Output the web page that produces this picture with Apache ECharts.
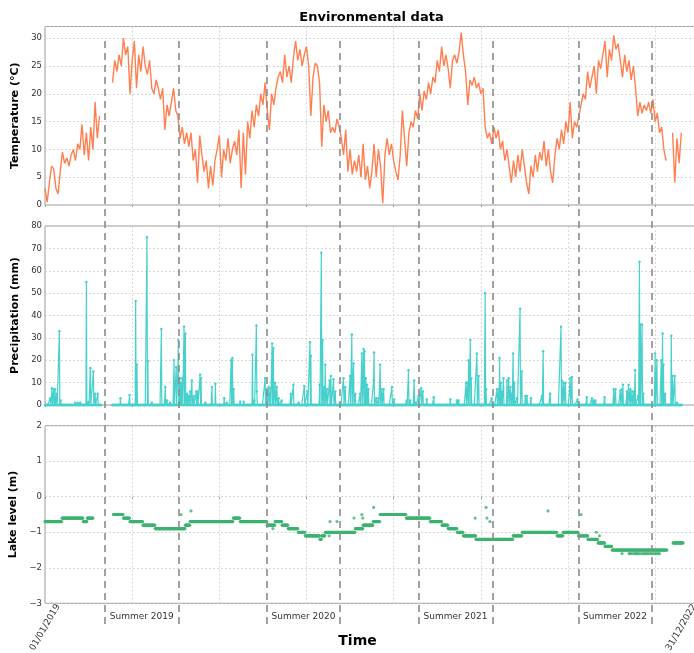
<!DOCTYPE html>
<html><head><meta charset="utf-8">
<script src="https://cdn.jsdelivr.net/npm/echarts@6/dist/echarts.min.js"></script>
<style>html,body{margin:0;padding:0;background:#fff}#c{width:694px;height:653px}</style>
</head><body><div id="c"></div>
<script>
// ---------- DATA (day index from 01/01/2019) ----------
const xMaxDay = 1496;
const tempStepDays = 5;
const temperature = [
 3, 0.5, 4, 7, 6.5, 3, 2, 6, 9.5, 7.5,
 8.5, 7, 9, 10, 8, 11, 10, 14.5, 9, 13,
 8, 14, 10, 18.5, 12, 16, null, null, null, null,
 null, 22, 26, 24, 27, 25, 30, 27, 28.5, 20,
 26, 29.5, 21, 27, 24, 28.5, 25, 23.5, 26, 21,
 20, 22.5, 21, 19, 21, 13.5, 18, 16, 18.5, 21,
 17, 16, 12, 14, 11, 13, 10.5, 13, 8, 10,
 4, 12.5, 9, 6, 8, 3, 7, 3.5, 8, 10,
 12.5, 5, 10, 8, 12, 7.5, 10, 11.5, 9, 13.5,
 3, 13, 5.5, 15, 12, 17, 14, 18, 16, 20,
 18, 22, 17, 13.5, 20, 18, 21, 23, 24, 22,
 27, 23, 25, 22, 26.5, 29.5, 26, 28, 25, 27,
 28.5, 25, 16, 23, 25.5, 25, 22, 10.5, 18, 15,
 17, 13, 14, 13, 15.5, 14, 12, 9, 13.5, 6,
 10, 5.5, 8, 6, 9, 5, 11, 4.5, 7, 3,
 6, 11, 5, 10, 7, 0.3, 9, 12, 9, 11,
 8, 6, 4.5, 9, 17, 12, 7, 13, 15, 14,
 17, 15.5, 20, 17, 20.5, 19, 22, 20, 23, 22,
 26, 24, 28.5, 25, 27, 24.5, 21, 26, 27, 25.5,
 27.5, 31, 27, 24, 18, 22.5, 21.5, 23, 21, 22,
 20, 21, 14, 12, 13, 11, 14, 12, 13.5, 10,
 11.5, 8, 10, 7, 4, 8, 5, 9, 6, 10,
 7, 4, 2, 7, 5, 9, 6, 9.5, 8, 11.5,
 7, 10, 6, 4, 9, 12, 10, 13.5, 11, 15,
 13, 18.5, 12, 15, 14, 16, 18, 20, 19, 24,
 21, 23, 25, 20, 26, 24.5, 27, 29.5, 23, 28,
 26, 30.5, 28, 29, 26, 23, 27, 24, 26, 22.5,
 25, 21, 16, 18.5, 16.5, 18, 17, 18.5, 16.5, 19,
 15, 16.5, 13, 14, 10, 8, null, null, 13, 4,
 12, 7.5, 13
];

// precipitation: [day, mm] for rainy days; all other recorded days are 0
const precipSpikes = [
 [12,3],[16,7.5],[20,7],[23,7],[27,5],[33,33],[36,2],[69,1],[75,1],[81,1],[95,55],[100,1.5],[104,16.5],[111,15],[115,5],[121,5],
 [173,3],[194,4.5],[208,46.5],[211,18],[234,75],[236,19.5],[245,1],[267,34],[276,8],[280,2],[287,1],[296,20],[301,17],[305,16],[306,29],
 [309,12],[312,10],[315,12],[319,35],[322,32],[326,5],[329,4],[333,6],[337,11],[341,4],[347,6],[350,6],[356,13.5],[358,12],[368,1],
 [383,8],[391,9.5],[411,3],[417,1],[427,20],[430,21],[433,7],[448,1.5],[456,1.5],[476,22.5],[480,2],[485,35.5],[486,6],
 [505,12],[509,7],[513,8],[517,7.5],[521,27.5],[524,25.5],[528,10],[532,8],[536,3],[543,2],[564,5],[570,9],[582,1],[595,8.5],[602,6],
 [608,28],[610,22],[630,9],[634,68],[637,29],[641,8],[643,18],[647,7],[653,11],[656,13],[662,11.5],[666,6],
 [685,12],[689,8],[700,13],[704,31.5],[708,18.5],[712,5],[723,5],[727,23],[731,25],[733,24],[736,12],[739,9],[742,7],[754,11],[755,23.5],
 [760,3],[765,3],[769,18],[773,7],[777,7],[796,8],[801,2.5],[830,2],[834,15.5],[838,2],[847,11],[851,1],[857,4],[863,7.5],[867,6],[876,2.5],
 [892,3.5],[930,2.5],[945,2],[949,2],[966,10],[970,10],[972,20],[976,29],[978,12],[991,23],[995,13],[1010,50],[1012,7],[1025,3],
 [1037,7],[1041,7],[1043,21],[1046,10],[1048,6],[1052,12],[1060,11],[1064,12],[1068,8],[1071,5],[1074,23],[1077,10],[1083,3],[1090,43],[1094,15],
 [1102,4],[1106,4],[1115,3],[1140,4],[1143,24],[1159,5],[1184,35],[1186,11],[1190,10],[1194,10],[1205,12],[1209,12.5],[1222,2.5],
 [1243,3.5],[1255,3],[1259,2],[1263,2],[1284,3.5],[1305,7],[1309,7],[1320,6.5],[1324,7],[1326,9],[1335,6],[1339,9],[1343,7],[1347,6],[1351,6],
 [1354,15.5],[1361,4],[1364,64],[1366,36],[1370,36],[1373,5],[1400,23],[1404,20],[1414,20],[1417,32],[1419,18],[1423,5],[1437,31],[1440,13],[1445,13],[1450,1]
];
const precipMissing = [130, 153];   // days without records
const precipLastDay = 1461;

// lake level: runs of constant level [startDay, endDay, level]
const lakeRuns = [
 [0,39,-0.7],[39,88,-0.6],[88,97,-0.7],[97,111,-0.6],
 [157,180,-0.5],[180,195,-0.6],[195,225,-0.7],[225,253,-0.8],[253,322,-0.9],[322,333,-0.8],[333,432,-0.7],[432,448,-0.6],
 [448,510,-0.7],[510,528,-0.8],[528,544,-0.7],[544,558,-0.8],[558,581,-0.9],[581,597,-1.0],[597,631,-1.1],[631,635,-1.2],
 [635,643,-1.1],[643,712,-1.0],[712,730,-0.9],[730,753,-0.8],[753,769,-0.7],[769,829,-0.5],[829,884,-0.6],[884,911,-0.7],
 [911,925,-0.8],[925,946,-0.9],[946,960,-1.0],[960,989,-1.1],[989,1074,-1.2],[1074,1095,-1.1],[1095,1175,-1.0],[1175,1189,-1.1],
 [1189,1224,-1.0],[1224,1246,-1.1],[1246,1269,-1.2],[1269,1285,-1.3],[1285,1301,-1.4],[1301,1428,-1.5],[1441,1465,-1.3]
];
// isolated lake readings
const lakeExtra = [
 [312,-0.5],[335,-0.4],[523,-0.9],[652,-1.1],[654,-0.7],[670,-0.7],[709,-0.6],[727,-0.5],[729,-0.6],[754,-0.3],
 [987,-0.6],[1012,-0.3],[1014,-0.6],[1021,-0.7],[1154,-0.4],[1230,-0.5],[1265,-1.0],[1272,-1.1],
 [1324,-1.6],[1340,-1.6],[1343,-1.6],[1347,-1.6],[1352,-1.6],[1355,-1.6],[1358,-1.6],[1361,-1.6],[1365,-1.6],[1370,-1.6],
 [1374,-1.6],[1378,-1.6],[1381,-1.6],[1385,-1.6],[1389,-1.6],[1392,-1.6],[1396,-1.6],[1400,-1.6],[1403,-1.6],[1407,-1.6],[1410,-1.6]
];

const summerBoundaries = [138, 306, 509, 677, 857, 1027, 1224, 1392];
const summerLabels = ['Summer 2019', 'Summer 2020', 'Summer 2021', 'Summer 2022'];
const dateLabelDays = [0, 1460];
const dateLabels = ['01/01/2019', '31/12/2022'];

// ---------- BUILD ----------
const tempData = temperature.map((v, i) => [i * tempStepDays, v]);

const rain = {};
precipSpikes.forEach(p => { rain[p[0]] = p[1]; });
const precipData = [];
for (let d = 0; d <= precipLastDay; d++) {
  if (d >= precipMissing[0] && d <= precipMissing[1]) { precipData.push([d, null]); continue; }
  precipData.push([d, rain[d] !== undefined ? rain[d] : 0]);
}

const lakeData = [];
lakeRuns.forEach(r => { for (let d = r[0]; d < r[1]; d++) lakeData.push([d, r[2]]); });
lakeExtra.forEach(p => lakeData.push(p));

const summerMid = [];
for (let k = 0; k < summerLabels.length; k++) summerMid.push((summerBoundaries[2*k] + summerBoundaries[2*k+1]) / 2);

const FONT = 'DejaVu Sans';
const gridLine = { show: true, lineStyle: { color: '#cccccc', type: [2, 2], width: 0.8 } };
const gridBox = { left: 45, width: 652, show: true, borderColor: '#9a9a9a', borderWidth: 1,
  backgroundColor: 'transparent', outerBoundsMode: 'none', containLabel: false };

function mainX(gi) {
  return { type: 'value', gridIndex: gi, min: 0, max: xMaxDay, interval: 200,
    axisLine: { show: false }, axisTick: { show: true, length: 2, lineStyle: { color: '#999' } },
    axisLabel: { show: false }, splitLine: gridLine };
}
function nearestIndex(arr, v) {
  let best = 0; for (let i = 1; i < arr.length; i++) if (Math.abs(arr[i] - v) < Math.abs(arr[best] - v)) best = i; return best;
}
function yAx(gi, min, max, interval, name, fmt) {
  return { type: 'value', gridIndex: gi, min: min, max: max, interval: interval,
    name: name, nameLocation: 'middle', nameGap: 14, nameRotate: 90,
    nameTextStyle: { fontFamily: FONT, fontWeight: 'bold', fontSize: 11, color: '#000' },
    axisLine: { show: false }, axisTick: { show: false },
    axisLabel: { fontFamily: FONT, fontSize: 8.5, color: '#333', margin: 3, formatter: fmt },
    splitLine: gridLine };
}

const chart = echarts.init(document.getElementById('c'), null, { renderer: 'canvas' });
chart.setOption({
  animation: false,
  backgroundColor: '#fff',
  title: [
    { text: 'Environmental data', left: 371.5, top: 11, textAlign: 'center', textVerticalAlign: 'top', padding: 0,
      textStyle: { fontFamily: FONT, fontSize: 13, fontWeight: 'bold', color: '#000' } },
    { text: 'Time', left: 357.5, top: 634, textAlign: 'center', textVerticalAlign: 'top', padding: 0,
      textStyle: { fontFamily: FONT, fontSize: 14, fontWeight: 'bold', color: '#000' } }
  ],
  grid: [
    Object.assign({ top: 26.5, height: 178.5 }, gridBox),
    Object.assign({ top: 226, height: 179 }, gridBox),
    Object.assign({ top: 425.7, height: 177.6 }, gridBox),
    { left: 45, width: 652, top: 41, height: 583, show: false, outerBoundsMode: 'none', containLabel: false }
  ],
  xAxis: [
    mainX(0), mainX(1), mainX(2),
    { type: 'value', gridIndex: 2, position: 'bottom', min: 0, max: xMaxDay,
      axisLine: { show: false }, axisTick: { show: false }, splitLine: { show: false },
      axisLabel: { customValues: summerMid, fontFamily: FONT, fontSize: 9, color: '#333', margin: 9,
        formatter: v => summerLabels[nearestIndex(summerMid, v)] } },
    { type: 'value', gridIndex: 2, position: 'bottom', min: 0, max: xMaxDay,
      axisLine: { show: false }, axisTick: { show: false }, splitLine: { show: false },
      axisLabel: { customValues: dateLabelDays, rotate: 60, align: 'center', verticalAlign: 'middle',
        fontFamily: FONT, fontSize: 9, color: '#333', margin: 24,
        formatter: v => dateLabels[nearestIndex(dateLabelDays, v)] } },
    { type: 'value', gridIndex: 3, min: 0, max: xMaxDay, show: false }
  ],
  yAxis: [
    yAx(0, 0, 32.1, 5, 'Temperature (°C)', v => (v % 5 === 0 ? String(v) : '')),
    yAx(1, 0, 80, 10, 'Precipitation (mm)', v => String(v)),
    yAx(2, -3, 2, 1, 'Lake level (m)', v => String(v).replace('-', '\u2212')),
    { type: 'value', gridIndex: 3, min: 0, max: 1, show: false }
  ],
  series: [
    { type: 'line', xAxisIndex: 0, yAxisIndex: 0, data: tempData, showSymbol: false, connectNulls: false,
      lineStyle: { color: '#FF7F50', width: 1.4 }, itemStyle: { color: '#FF7F50' } },
    { type: 'line', xAxisIndex: 1, yAxisIndex: 1, data: precipData, symbol: 'circle', symbolSize: 2.5,
      showSymbol: true, showAllSymbol: true, connectNulls: false,
      lineStyle: { color: '#48D1CC', width: 1.2 }, itemStyle: { color: '#48D1CC' } },
    { type: 'scatter', xAxisIndex: 2, yAxisIndex: 2, data: lakeData, symbol: 'circle', symbolSize: 3.2,
      itemStyle: { color: '#3CB371' } },
    { type: 'line', xAxisIndex: 5, yAxisIndex: 3, data: [],
      markLine: { silent: true, symbol: ['none', 'none'], label: { show: false },
        lineStyle: { type: [7, 5], color: '#8c8c8c', width: 1.6 },
        data: summerBoundaries.map(d => ({ xAxis: d })) } }
  ]
});
</script>
</body></html>
